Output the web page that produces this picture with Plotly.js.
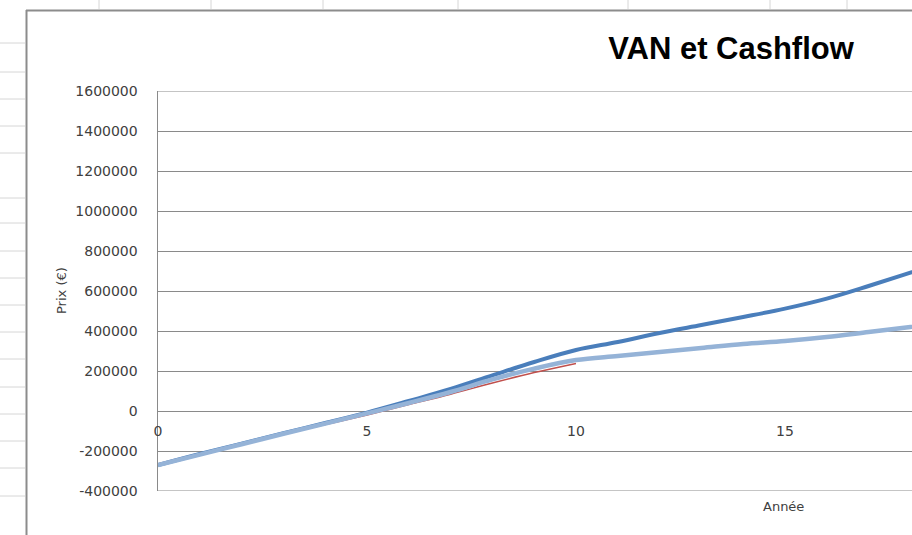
<!DOCTYPE html>
<html>
<head>
<meta charset="utf-8">
<script src="https://cdn.plot.ly/plotly-3.0.1.min.js"></script>
<style>html,body{margin:0;padding:0;background:#fff;}#chart{width:912px;height:535px;}</style>
</head>
<body>
<div id="chart"></div>
<script>
// Data
const yearsVAN = [0,1,2,3,4,5,6,7,8,9,10,11,12,13,14,15,16,17,18,19];
const vanDark = [-270000,-215000,-163000,-111000,-60000,-8000,50000,110000,178000,245000,305000,345000,390000,430000,470000,512000,562000,625000,692000,760000];
const cashLight = [-270000,-218000,-166000,-114000,-63000,-12000,40000,95000,158000,212000,255000,275000,295000,315000,335000,350000,370000,395000,420000,445000];
const yearsRed = [0,1,2,3,4,5,6,7,8,9,10];
const redSeries = [-265000,-215000,-165000,-116000,-68000,-20000,32000,84000,140000,192000,238000];
const yTicks = [-400000,-200000,0,200000,400000,600000,800000,1000000,1200000,1400000,1600000];
const xTicks = [0,5,10,15];
const yMin = -400000, yMax = 1600000;

// pixel geometry helpers for decoration
const L=158, T=91, W=754, H=400;
const px = v => (v-L)/W;
const py = v => (T+H-v)/H;

const shapes = [];
const cellColor = '#d6d6d6';
[43,72,99,126,153,198,223,251,278,305,332,359,387,414,441,468,496].forEach(y=>{
  shapes.push({type:'line',xref:'paper',yref:'paper',x0:px(0),x1:px(25),y0:py(y),y1:py(y),line:{color:cellColor,width:1}});
});
[99,211,323,458,628,770,847].forEach(x=>{
  shapes.push({type:'line',xref:'paper',yref:'paper',x0:px(x),x1:px(x),y0:py(0),y1:py(9),line:{color:cellColor,width:1}});
});
shapes.push({type:'line',xref:'paper',yref:'paper',x0:px(26.5),x1:px(26.5),y0:py(10),y1:py(535),line:{color:'#8c8c8c',width:2}});
shapes.push({type:'line',xref:'paper',yref:'paper',x0:px(26),x1:px(912),y0:py(10.5),y1:py(10.5),line:{color:'#8c8c8c',width:2}});
// edge gridlines at top and bottom of the value axis
[yMin, yMax].forEach(v=>{
  shapes.push({type:'line',xref:'paper',yref:'y',x0:0,x1:1,y0:v,y1:v,layer:'below',line:{color:'#8a8a8a',width:1}});
});

const traces = [
  {x: yearsVAN, y: vanDark, mode:'lines', line:{color:'#4a7ebb', width:4, shape:'spline'}, name:'VAN'},
  {x: yearsRed, y: redSeries, mode:'lines', line:{color:'#c0504d', width:1.5, shape:'spline'}, name:'Cashflow'},
  {x: yearsVAN, y: cashLight, mode:'lines', line:{color:'#95b3d7', width:4.5, shape:'spline'}, name:'Cashflow cumulé'}
];

const tickFont = {family:'DejaVu Sans', size:14, color:'#404040'};
const layout = {
  width:912, height:535,
  margin:{l:L, r:0, t:T, b:44},
  paper_bgcolor:'#ffffff', plot_bgcolor:'#ffffff',
  showlegend:false,
  title:{text:'<b>VAN et Cashflow</b>', font:{family:'Liberation Sans, Arial', size:31, color:'#000'}, xref:'paper', x:px(731), xanchor:'center', y:1-48/535, yanchor:'middle'},
  xaxis:{range:[0, W/41.8], tickvals:xTicks, ticktext:xTicks.map(String), showgrid:false, zeroline:false, showline:false,
         anchor:'free', position:0.2, ticks:'', ticklabelstandoff:10, tickfont:tickFont, fixedrange:true},
  yaxis:{range:[yMin,yMax], tickvals:yTicks, ticktext:yTicks.map(v=>String(v)), tickfont:tickFont,
         showgrid:true, gridcolor:'#8a8a8a', gridwidth:1, zeroline:false, showline:true, linecolor:'#8a8a8a', linewidth:1.5,
         ticks:'', ticklabelstandoff:16, fixedrange:true},
  shapes: shapes,
  annotations:[
    {text:'Prix (€)', xref:'paper', yref:'paper', x:px(61), y:py(291), textangle:-90, showarrow:false, xanchor:'center', yanchor:'middle', font:{family:'DejaVu Sans', size:13, color:'#404040'}},
    {text:'Année', xref:'paper', yref:'paper', x:px(783), y:py(506), showarrow:false, xanchor:'center', yanchor:'middle', font:{family:'DejaVu Sans', size:13, color:'#404040'}}
  ]
};
Plotly.newPlot('chart', traces, layout, {displayModeBar:false, staticPlot:true});
</script>
</body>
</html>
